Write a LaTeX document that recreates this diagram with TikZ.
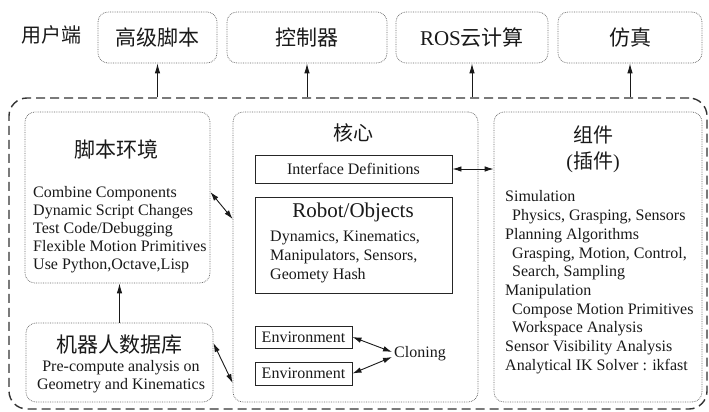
\documentclass[tikz,border=0pt]{standalone}
\usepackage{fontspec}
\setmainfont{Liberation Serif}
\newfontfamily\cjk{Noto Sans CJK SC}
\usetikzlibrary{arrows.meta,calc}
\begin{document}
\begin{tikzpicture}[x=1pt,y=-1pt,
  dotbox/.style={draw=black!60, densely dotted, line width=0.75pt, rounded corners=10pt, inner sep=0pt},
  plainbox/.style={draw=black!85, line width=0.9pt, inner sep=0pt},
  outerbox/.style={draw=black!80, line width=1.4pt, dash pattern=on 9pt off 5pt, rounded corners=18pt, inner sep=0pt},
  arr/.style={-{Latex[length=10pt,width=5.5pt]}, line width=0.9pt, black!90},
  darr/.style={{Latex[length=9pt,width=5.5pt]}-{Latex[length=9pt,width=5.5pt]}, line width=0.9pt, black!90},
  cjktitle/.style={font=\cjk\fontsize{20}{24}\selectfont, text=black!90, inner sep=0pt},
  toptext/.style={font=\fontsize{21}{25}\selectfont, text=black!90},
  body/.style={font=\fontsize{16}{18}\selectfont, inner sep=0pt, text=black!90},
]
\useasboundingbox (0,0) rectangle (709,412);

% user side
\node[cjktitle] (user) at (51,35) {用户端};
\node[dotbox, toptext, minimum width=119, minimum height=51] (hs) at (157.5,37.5) {\cjk 高级脚本};
\node[dotbox, toptext, minimum width=160, minimum height=51] (ctrl) at (307,37.5) {\cjk 控制器};
\node[dotbox, toptext, minimum width=152, minimum height=51] (ros) at (472,37.5) {ROS{\cjk 云计算}};
\node[dotbox, toptext, minimum width=144, minimum height=51] (sim) at (630,37.5) {\cjk 仿真};

% outer dashed frame
\node[outerbox, minimum width=698, minimum height=311] (outer) at (358,253.5) {};

\draw[arr] (outer.north -| hs.south) -- (hs.south);
\draw[arr] (outer.north -| ctrl.south) -- (ctrl.south);
\draw[arr] (outer.north -| ros.south) -- (ros.south);
\draw[arr] (outer.north -| sim.south) -- (sim.south);

% left column
\node[dotbox, minimum width=185, minimum height=171] (script) at (117.5,197.5) {};
\node[cjktitle, font=\cjk\fontsize{21}{25}\selectfont] (scriptt) at (116,149) {脚本环境};
\node[body, anchor=north west, align=left, font=\fontsize{16}{17.8}\selectfont] (scriptb) at (33,186.6)
  {Combine Components\\Dynamic Script Changes\\Test Code/Debugging\\Flexible Motion Primitives\\Use Python,Octave,Lisp};

\node[dotbox, minimum width=187, minimum height=79] (db) at (119.5,362.5) {};
\node[cjktitle, font=\cjk\fontsize{21}{25}\selectfont] (dbt) at (119,345) {机器人数据库};
\node[body, anchor=north, align=center] (dbb) at (121,360.6)
  {Pre-compute analysis on\\Geometry and Kinematics};
\draw[arr] (db.north) -- (db.north |- script.south);

% core
\node[dotbox, minimum width=245, minimum height=290] (core) at (355.5,257) {};
\node[cjktitle] (coret) at (353,133) {核心};
\node[plainbox, body, minimum width=197, minimum height=28] (iface) at (353.5,169) {Interface Definitions};
\node[plainbox, minimum width=197, minimum height=96] (robot) at (353.5,245) {};
\node[body, font=\fontsize{21}{25}\selectfont] (robott) at (353,212) {Robot/Objects};
\node[body, anchor=north west, align=left, font=\fontsize{16}{19}\selectfont] (robotb) at (270,230.6)
  {Dynamics, Kinematics,\\Manipulators, Sensors,\\Geomety Hash};
\node[plainbox, body, minimum width=97, minimum height=22] (env1) at (303.5,337) {Environment};
\node[plainbox, body, minimum width=97, minimum height=23] (env2) at (303.5,373.5) {Environment};
\node[body, inner sep=2pt] (clon) at (420,354) {Cloning};
\draw[darr] (env1.east) -- ($(clon.west)+(0,-2)$);
\draw[darr] (env2.east) -- ($(clon.west)+(0,3)$);

% plugins
\node[dotbox, minimum width=208, minimum height=290] (plug) at (598,257) {};
\node[cjktitle] (plugt) at (593,135) {组件};
\node[toptext, font=\fontsize{20}{24}\selectfont, inner sep=0pt] (plugt2) at (593,162) {({\cjk 插件})};
\node[body, anchor=north west, align=left, font=\fontsize{16}{18.7}\selectfont] (plugb) at (505,190.6)
  {Simulation\\
   \hspace*{7pt}Physics, Grasping, Sensors\\
   Planning Algorithms\\
   \hspace*{7pt}Grasping, Motion, Control,\\
   \hspace*{7pt}Search, Sampling\\
   Manipulation\\
   \hspace*{7pt}Compose Motion Primitives\\
   \hspace*{7pt}Workspace Analysis\\
   Sensor Visibility Analysis\\
   Analytical IK Solver : ikfast};

% connectors between columns
\draw[darr] (iface.east) -- (iface.east -| plug.west);
\draw[darr] ($(script.east)+(0,-5.5)$) -- ($(core.west)+(0,-38)$);
\draw[darr] ($(db.east)+(0,-19.5)$) -- ($(core.west)+(0,126)$);
\end{tikzpicture}
\end{document}
